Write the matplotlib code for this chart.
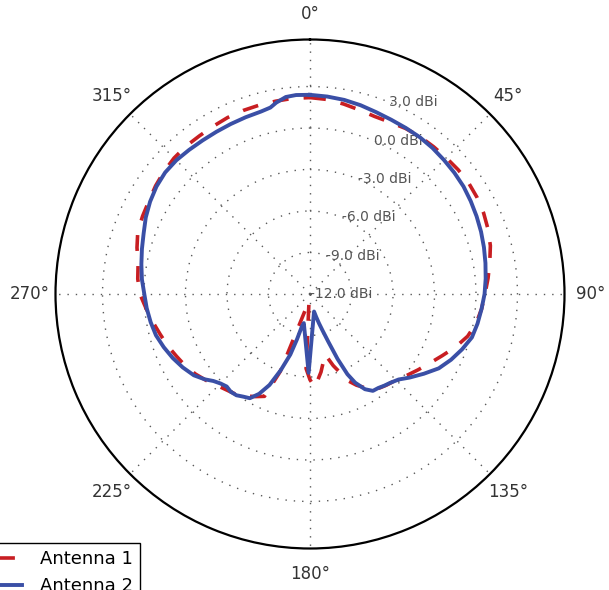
import numpy as np
import matplotlib
matplotlib.use("Agg")
import matplotlib.pyplot as plt

# Antenna 1 (red dashed): angle in degrees, gain in dBi
theta_ant1 = [0, 5, 10, 15, 20, 25, 30, 35, 40, 45, 50, 55, 60, 65, 70, 75, 80, 85, 90, 95,
              100, 105, 110, 115, 120, 125, 130, 135, 140, 145, 150, 153, 156, 159, 162, 166,
              172, 177, 180, 183, 188, 201, 204, 208, 212, 216, 220, 225, 230, 235, 240, 245,
              250, 255, 260, 265, 270, 275, 280, 285, 290, 295, 300, 305, 310, 315, 320, 325,
              330, 335, 340, 345, 350, 355, 360]
gain_ant1 = [2.2, 2.12, 1.95, 1.78, 1.66, 1.7, 1.82, 1.88, 1.9, 1.93, 1.98, 2.0, 1.95, 1.85,
             1.7, 1.5, 1.2, 0.92, 0.65, 0.45, 0.2, -0.2, -0.8, -1.45, -2.0, -2.45, -2.85, -3.2,
             -3.4, -3.6, -4.2, -4.6, -5.1, -5.9, -6.55, -7.5, -6.3, -5.25, -5.8, -6.6, -11.5,
             -6.0, -3.9, -3.6, -3.3, -3.0, -2.85, -2.6, -2.25, -1.9, -1.6, -1.35, -1.05, -0.78,
             -0.45, -0.1, 0.3, 0.5, 0.62, 0.95, 1.25, 1.35, 1.45, 1.63, 1.78, 1.9, 1.95, 1.95,
             2.0, 2.08, 2.12, 2.14, 2.16, 2.2, 2.2]

# Antenna 2 (blue solid)
theta_ant2 = [0, 5, 10, 15, 20, 25, 30, 35, 40, 45, 50, 55, 60, 65, 70, 75, 80, 85, 90, 95,
              100, 105, 110, 115, 120, 125, 130, 134, 138, 141, 144, 147, 150, 153, 155, 157,
              159, 161, 163, 165, 167, 181, 192, 194, 196, 198, 201, 204, 207, 210, 213, 216,
              219, 222, 225, 228, 231, 235, 240, 245, 250, 255, 260, 265, 270, 275, 280, 285,
              290, 295, 300, 305, 310, 315, 320, 325, 330, 335, 340, 345, 348, 350, 353, 356,
              360]
gain_ant2 = [2.4, 2.33, 2.25, 2.13, 1.99, 1.9, 1.86, 1.84, 1.78, 1.7, 1.63, 1.55, 1.42, 1.29,
             1.16, 1.02, 0.88, 0.75, 0.62, 0.45, 0.3, 0.12, -0.3, -0.75, -1.25, -1.95, -2.6,
             -3.1, -3.35, -3.47, -3.6, -3.65, -4.05, -4.8, -5.6, -6.9, -8.3, -9.2, -9.8, -10.3,
             -10.7, -6.3, -9.85, -9.6, -8.6, -7.4, -6.1, -4.8, -3.9, -3.3, -3.15, -2.95, -2.9,
             -3.0, -2.85, -2.6, -2.2, -1.75, -1.38, -1.05, -0.75, -0.47, -0.3, -0.15, -0.02,
             0.2, 0.38, 0.58, 0.8, 1.1, 1.35, 1.55, 1.67, 1.67, 1.6, 1.55, 1.54, 1.56, 1.6,
             1.66, 1.78, 2.05, 2.35, 2.42, 2.4]

series_labels = ["Antenna 1", "Antenna 2"]
r_ticks = [-12.0, -9.0, -6.0, -3.0, 0.0, 3.0]
r_tick_labels = ["%.1f dBi" % v for v in r_ticks]
theta_ticks = [0, 45, 90, 135, 180, 225, 270, 315]
theta_tick_labels = ["%d\u00b0" % v for v in theta_ticks]
r_min, r_max = -12.0, 6.4

W, H = 609, 590
fig = plt.figure(figsize=(W / 100, H / 100), dpi=100)
ax = fig.add_axes([55.5 / W, 1 - 548.5 / H, 509 / W, 509 / H], projection="polar")
ax.set_theta_zero_location("N")
ax.set_theta_direction(-1)

ax.plot(np.deg2rad(theta_ant1), gain_ant1, color="#c81e22", lw=2.6,
        linestyle=(0, (4.4, 4.2)), label=series_labels[0], zorder=3)
ax.plot(np.deg2rad(theta_ant2), gain_ant2, color="#3a4fa6", lw=2.8,
        label=series_labels[1], zorder=4)

ax.set_ylim(r_min, r_max)
ax.set_yticks(r_ticks)
ax.set_yticklabels([])
ax.set_xticks(np.deg2rad(theta_ticks))
ax.set_xticklabels(theta_tick_labels, fontsize=12, color="#333333")
ax.tick_params(axis="x", pad=8)
ax.grid(True, color="0.35", linestyle=(0, (1, 5)), linewidth=1.0)
ax.spines["polar"].set_linewidth(1.6)
ax.spines["polar"].set_color("black")

for v, lab in zip(r_ticks, r_tick_labels):
    ax.text(np.deg2rad(22.5), v, lab, fontsize=10, color="#555555",
            ha="left", va="center", zorder=2)

fig.legend(loc="upper right", bbox_to_anchor=(140 / W, 1 - 543 / H),
           bbox_transform=fig.transFigure, borderaxespad=0, fontsize=13,
           fancybox=False, framealpha=1, edgecolor="black", handletextpad=1.0)

fig.savefig("out.png", dpi=100)
